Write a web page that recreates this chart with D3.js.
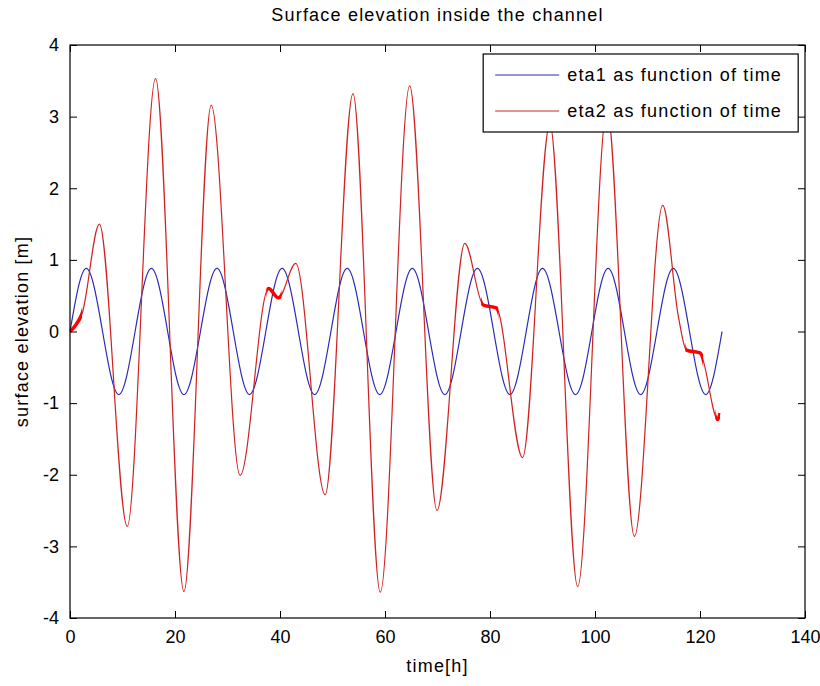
<!DOCTYPE html>
<html>
<head>
<meta charset="utf-8">
<script src="https://cdn.jsdelivr.net/npm/d3@7"></script>
<style>
  body { margin: 0; background: #fff; }
  text { font-family: "Liberation Sans", Arial, Helvetica, sans-serif; fill: #000; }
  .label { font-size: 18px; letter-spacing: 1.2px; }
</style>
</head>
<body>
<div id="chart"></div>
<script>
// eta1: tide at the channel mouth (peaks / troughs / ends)
const eta1Time = [0, 3.1, 9.3, 15.5, 21.7, 28.0, 34.2, 40.4, 46.6, 52.8, 59.0,
  65.2, 71.4, 77.6, 83.8, 90.0, 96.3, 102.5, 108.7, 114.9, 121.1, 124.2];
const eta1Value = [0, 0.88, -0.88, 0.88, -0.88, 0.88, -0.88, 0.88, -0.88, 0.88, -0.88,
  0.88, -0.88, 0.88, -0.88, 0.88, -0.88, 0.88, -0.88, 0.88, -0.88, 0];

// eta2: response inside the channel
const eta2Time = [0, 1.0, 2.3, 5.6, 10.9, 16.3, 21.7, 26.9, 32.4, 37.8, 39.7, 43.0,
  48.6, 53.9, 59.1, 64.7, 69.9, 75.2, 78.7, 81.2, 86.2, 91.4, 96.7, 102.3, 107.5,
  112.9, 115.9, 117.4, 120.0, 123.4, 123.8];
const eta2Value = [0, 0.08, 0.25, 1.5, -2.72, 3.53, -3.63, 3.16, -2.01, 0.6, 0.47, 0.95,
  -2.28, 3.32, -3.64, 3.43, -2.5, 1.23, 0.37, 0.33, -1.76, 2.9, -3.56, 3.1, -2.86,
  1.76, 0.2, -0.26, -0.3, -1.23, -1.14];

// stretches where eta2 wiggles and looks thick
const noisyRanges = [[0, 2.3], [37.4, 40.3], [78.3, 81.6], [117.2, 120.6], [122.9, 123.8]];

const xTicks = [0, 20, 40, 60, 80, 100, 120, 140];
const yTicks = [-4, -3, -2, -1, 0, 1, 2, 3, 4];
const legendLabels = ['eta1 as function of time', 'eta2 as function of time'];
const colors = ['#2a2ab4', '#d02222'];

const width = 820, height = 686;
const margin = { left: 70, right: 15, top: 45, bottom: 68 };
const pw = width - margin.left - margin.right;
const ph = height - margin.top - margin.bottom;

const svg = d3.select('#chart').append('svg')
  .attr('width', width)
  .attr('height', height);

svg.append('rect').attr('width', width).attr('height', height).attr('fill', '#fff');

const g = svg.append('g').attr('transform', `translate(${margin.left},${margin.top})`);

const x = d3.scaleLinear().domain([0, 140]).range([0, pw]);
const y = d3.scaleLinear().domain([-4, 4]).range([ph, 0]);

const line = d3.line()
  .x(d => x(d[0]))
  .y(d => y(d[1]))
  .curve(d3.curveMonotoneX);

const eta1 = eta1Time.map((t, i) => [t, eta1Value[i]]);
const eta2 = eta2Time.map((t, i) => [t, eta2Value[i]]);

g.append('path')
  .datum(eta1)
  .attr('d', line)
  .attr('fill', 'none')
  .attr('stroke', colors[0])
  .attr('stroke-width', 1.2);

g.append('path')
  .datum(eta2)
  .attr('d', line)
  .attr('fill', 'none')
  .attr('stroke', colors[1])
  .attr('stroke-width', 1.2);

// thicker red where the signal is noisy
const clip = svg.append('defs').append('clipPath').attr('id', 'noisy');
clip.selectAll('rect')
  .data(noisyRanges)
  .enter()
  .append('rect')
  .attr('x', d => x(d[0]))
  .attr('width', d => x(d[1]) - x(d[0]))
  .attr('y', 0)
  .attr('height', ph);

g.append('path')
  .datum(eta2)
  .attr('d', line)
  .attr('fill', 'none')
  .attr('stroke', '#ff0000')
  .attr('stroke-width', 3.5)
  .attr('clip-path', 'url(#noisy)');

// axes, MATLAB style box with inward ticks on all sides
const tickLen = 7;
const fmt = d => String(d); // plain hyphen, as in the original
g.append('g')
  .attr('transform', `translate(0,${ph})`)
  .call(d3.axisBottom(x).tickValues(xTicks).tickSizeInner(-tickLen).tickSizeOuter(0).tickPadding(12).tickFormat(fmt))
  .call(a => a.selectAll('text').attr('font-size', 18));
g.append('g')
  .call(d3.axisTop(x).tickValues(xTicks).tickSizeInner(-tickLen).tickSizeOuter(0).tickFormat(''));
g.append('g')
  .call(d3.axisLeft(y).tickValues(yTicks).tickSizeInner(-tickLen).tickSizeOuter(0).tickPadding(11).tickFormat(fmt))
  .call(a => a.selectAll('text').attr('font-size', 18));
g.append('g')
  .attr('transform', `translate(${pw},0)`)
  .call(d3.axisRight(y).tickValues(yTicks).tickSizeInner(-tickLen).tickSizeOuter(0).tickFormat(''));

g.selectAll('.domain').remove();
g.selectAll('.tick line').attr('stroke', '#000');
g.selectAll('.tick text').attr('font-family', null);
g.append('rect')
  .attr('width', pw)
  .attr('height', ph)
  .attr('fill', 'none')
  .attr('stroke', '#000')
  .attr('stroke-width', 1.2);

// legend
const legend = g.append('g').attr('transform', `translate(${x(78.7)},9)`);
legend.append('rect')
  .attr('width', 315)
  .attr('height', 78)
  .attr('fill', '#fff')
  .attr('stroke', '#000')
  .attr('stroke-width', 1.2);
legendLabels.forEach((lab, i) => {
  const ly = 21 + i * 36;
  legend.append('line')
    .attr('x1', 12).attr('x2', 76)
    .attr('y1', ly).attr('y2', ly)
    .attr('stroke', colors[i])
    .attr('stroke-width', 1.2);
  legend.append('text')
    .attr('class', 'label')
    .attr('x', 84).attr('y', ly + 6)
    .text(lab);
});

// titles
svg.append('text')
  .attr('class', 'label')
  .attr('x', margin.left + pw / 2)
  .attr('y', 21)
  .attr('text-anchor', 'middle')
  .text('Surface elevation inside the channel');
svg.append('text')
  .attr('class', 'label')
  .attr('x', margin.left + pw / 2)
  .attr('y', 672)
  .attr('text-anchor', 'middle')
  .text('time[h]');
svg.append('text')
  .attr('class', 'label')
  .attr('transform', `translate(28,${margin.top + ph / 2}) rotate(-90)`)
  .attr('text-anchor', 'middle')
  .text('surface elevation [m]');
</script>
</body>
</html>
